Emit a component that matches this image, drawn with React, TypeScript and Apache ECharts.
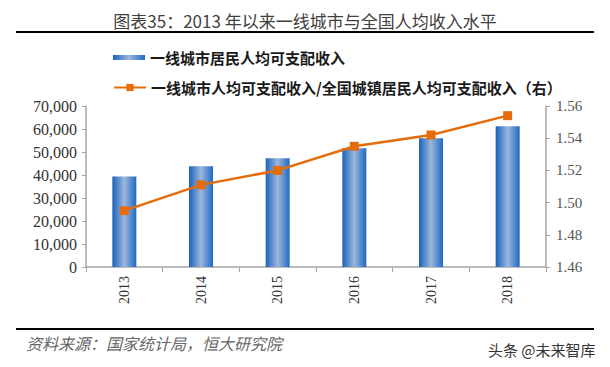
import React, { useEffect, useRef } from "react";
import * as echarts from "echarts";

const years = ["2013", "2014", "2015", "2016", "2017", "2018"];
const tier1Income = [39400, 43800, 47300, 51600, 56000, 61200];
const ratioToNational = [1.495, 1.511, 1.520, 1.535, 1.542, 1.554];
const leftTicks = [0, 70000, 10000];
const rightTicks = [1.46, 1.56, 0.02];

const barName = "一线城市居民人均可支配收入";
const lineName = "一线城市人均可支配收入/全国城镇居民人均可支配收入（右）";

export default function App() {
  const ref = useRef<HTMLDivElement>(null);
  useEffect(() => {
    if (!ref.current) return;
    const chart = echarts.init(ref.current, null, { renderer: "svg" });
    const axisColor = "#a6a6a6";
    const barGrad = new echarts.graphic.LinearGradient(0, 0, 1, 0, [
      { offset: 0, color: "#1a62bc" },
      { offset: 0.5, color: "#9cb7dc" },
      { offset: 1, color: "#1d6ac4" },
    ]);
    chart.setOption({
      animation: false,
      backgroundColor: "#ffffff",
      title: {
        text: "图表35：2013 年以来一线城市与全国人均收入水平",
        left: "center",
        top: 12,
        padding: 0,
        textStyle: {
          fontSize: 17,
          fontWeight: "normal",
          color: "#404040",
          fontFamily: "Noto Sans CJK SC",
        },
      },
      legend: [
        {
          data: [{ name: barName, icon: "rect" }],
          left: 113,
          top: 50,
          padding: 0,
          itemWidth: 32,
          itemHeight: 5,
          itemGap: 5,
          textStyle: { fontSize: 15, fontWeight: "bold", color: "#1a1a1a", fontFamily: "Noto Sans CJK SC" },
        },
        {
          data: [{ name: lineName }],
          left: 113,
          top: 80,
          padding: 0,
          itemWidth: 32,
          itemHeight: 9,
          itemGap: 5,
          textStyle: { fontSize: 15, fontWeight: "bold", color: "#1a1a1a", fontFamily: "Noto Sans CJK SC" },
        },
      ],
      grid: { left: 86, right: 64, top: 106, bottom: 100, containLabel: false },
      xAxis: {
        type: "category",
        data: years,
        boundaryGap: true,
        axisLine: { lineStyle: { color: axisColor, width: 1.5 } },
        axisTick: { show: true, alignWithLabel: false, length: 5, lineStyle: { color: axisColor } },
        axisLabel: {
          rotate: 90,
          fontSize: 14,
          color: "#333",
          fontFamily: "Liberation Serif",
          margin: 9,
        },
      },
      yAxis: [
        {
          type: "value",
          min: leftTicks[0],
          max: leftTicks[1],
          interval: leftTicks[2],
          splitLine: { show: false },
          axisLine: { show: true, lineStyle: { color: axisColor, width: 1.5 } },
          axisTick: { show: true, length: 4, lineStyle: { color: axisColor } },
          axisLabel: {
            fontSize: 16,
            color: "#333",
            fontFamily: "Liberation Serif",
            margin: 9,
            formatter: (v: number) => v.toLocaleString("en-US"),
          },
        },
        {
          type: "value",
          min: rightTicks[0],
          max: rightTicks[1],
          interval: rightTicks[2],
          position: "right",
          splitLine: { show: false },
          axisLine: { show: true, lineStyle: { color: axisColor, width: 1.5 } },
          axisTick: { show: true, length: 4, lineStyle: { color: axisColor } },
          axisLabel: {
            fontSize: 15,
            color: "#555",
            fontFamily: "Liberation Serif",
            margin: 10,
            formatter: (v: number) => v.toFixed(2),
          },
        },
      ],
      series: [
        {
          name: barName,
          type: "bar",
          data: tier1Income,
          barWidth: 24,
          itemStyle: { color: barGrad },
          yAxisIndex: 0,
        },
        {
          name: lineName,
          type: "line",
          data: ratioToNational,
          yAxisIndex: 1,
          symbol: "rect",
          symbolSize: 9,
          lineStyle: { color: "#e46c0a", width: 2.5 },
          itemStyle: { color: "#e46c0a" },
        },
      ],
      graphic: [
        {
          type: "line",
          shape: { x1: 16, y1: 32, x2: 594, y2: 32 },
          style: { stroke: "#000", lineWidth: 2 },
        },
        {
          type: "line",
          shape: { x1: 16, y1: 329, x2: 594, y2: 329 },
          style: { stroke: "#000", lineWidth: 2 },
        },
        {
          type: "text",
          x: 26,
          y: 343,
          style: {
            text: "资料来源：国家统计局，恒大研究院",
            fontSize: 16,
            fontStyle: "italic",
            fill: "#666",
            fontFamily: "Noto Sans CJK SC",
            verticalAlign: "middle",
          },
        },
        {
          type: "text",
          x: 488,
          y: 349,
          style: {
            text: "头条 @未来智库",
            fontSize: 15,
            fill: "#333",
            fontFamily: "Noto Sans CJK SC",
            verticalAlign: "middle",
          },
        },
      ],
    });
    return () => chart.dispose();
  }, []);
  return <div ref={ref} style={{ width: 610, height: 367, margin: -8 }} />;
}
